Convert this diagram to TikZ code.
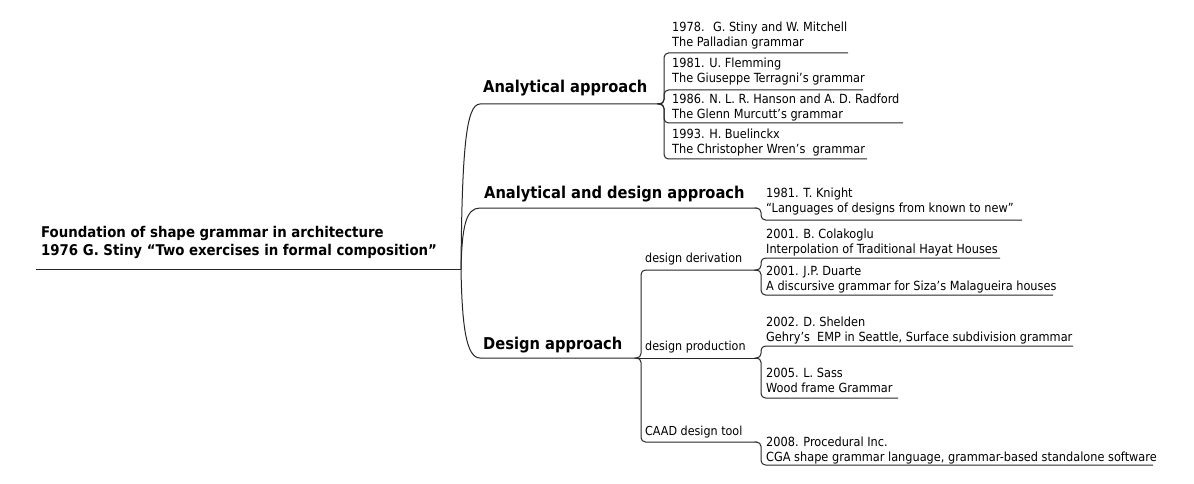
\documentclass[tikz,border=0pt]{standalone}
\usepackage{fontspec}
\setmainfont{DejaVu Sans Condensed}
\begin{document}
\begin{tikzpicture}[x=1pt,y=-1pt,
  ln/.style={draw=black!85,line width=1pt},
  brk/.style={ln,rounded corners=4.5pt},
  txt/.style={inner sep=0pt,anchor=base west,align=left,font=\fontsize{12.6}{15}\selectfont},
  sub/.style={inner sep=0pt,anchor=base west,font=\fontsize{12.4}{15}\selectfont},
  ttl/.style={inner sep=0pt,anchor=base west,font=\fontsize{16.3}{19}\selectfont\bfseries},
  root/.style={inner sep=0pt,anchor=base west,align=left,font=\fontsize{14.8}{18}\selectfont\bfseries}]
\useasboundingbox (0,0) rectangle (1194,484);
% root
\node[root] (rt) at (41,255.5) {Foundation of shape grammar in architecture\\1976 G. Stiny “Two exercises in formal composition”};
\coordinate (rootL) at (36,269);
\coordinate (J0) at (461,269);
\draw[ln] (rootL) -- (J0);
% main branches
\node[ttl] (t1) at (483,93) {Analytical approach};
\node[ttl] (t2) at (484,198) {Analytical and design approach};
\node[ttl] (t3) at (483,349) {Design approach};
\coordinate (b1) at (480,104); \coordinate (J1) at (660,104);
\coordinate (b2) at (480,208); \coordinate (J2) at (757,208);
\coordinate (b3) at (480,358); \coordinate (J3) at (637,358);
\draw[ln] (J0) .. controls (462,150) and (466,104) .. (b1) -- (J1);
\draw[ln] (J0) .. controls (462,226) and (466,208) .. (b2) -- (J2);
\draw[ln] (J0) .. controls (462,325) and (466,358) .. (b3) -- (J3);
% analytical items
\node[txt] (a1) at (672,46.5) {1978.~ G. Stiny and W. Mitchell\\The Palladian grammar};
\node[txt] (a2) at (672,82.5) {1981. U. Flemming\\The Giuseppe Terragni’s grammar};
\node[txt] (a3) at (672,118.5) {1986. N. L. R. Hanson and A. D. Radford\\The Glenn Murcutt’s grammar};
\node[txt] (a4) at (672,153.5) {1993. H. Buelinckx\\The Christopher Wren’s~ grammar};
\coordinate (a1e) at (848,53);
\coordinate (a2e) at (863,90);
\coordinate (a3e) at (903,123);
\coordinate (a4e) at (867,159);
\foreach \e in {a1e,a2e,a3e,a4e} \draw[brk] (J1) -- ++(4,0) |- (\e);
% analytical and design item
\node[txt] (k1) at (766,212.5) {1981. T. Knight\\“Languages of designs from known to new”};
\coordinate (k1e) at (1022,220);
\draw[brk] (J2) -- ++(4,0) |- (k1e);
% design approach sub-branches
\node[sub] (s1) at (645,262.5) {design derivation};
\node[sub] (s2) at (645,350.5) {design production};
\node[sub] (s3) at (645,435.5) {CAAD design tool};
\coordinate (J31) at (757,270);
\coordinate (J32) at (757,358);
\coordinate (J33) at (757,442);
\draw[brk] (J3) -- ++(4,0) |- (J31);
\draw[ln] (J3) -- (J32);
\draw[brk] (J3) -- ++(4,0) |- (J33);
% design derivation items
\node[txt] (d1) at (766,253.5) {2001. B. Colakoglu\\Interpolation of Traditional Hayat Houses};
\node[txt] (d2) at (766,290.5) {2001. J.P. Duarte\\A discursive grammar for Siza’s Malagueira houses};
\coordinate (d1e) at (1000,258);
\coordinate (d2e) at (1053,295);
\draw[brk] (J31) -- ++(4,0) |- (d1e);
\draw[brk] (J31) -- ++(4,0) |- (d2e);
% design production items
\node[txt] (p1) at (766,341.5) {2002. D. Shelden\\Gehry’s~ EMP in Seattle, Surface subdivision grammar};
\node[txt] (p2) at (766,392.5) {2005. L. Sass\\Wood frame Grammar};
\coordinate (p1e) at (1073,346);
\coordinate (p2e) at (898,398);
\draw[brk] (J32) -- ++(4,0) |- (p1e);
\draw[brk] (J32) -- ++(4,0) |- (p2e);
% CAAD item
\node[txt] (c1) at (766,461.5) {2008. Procedural Inc.\\CGA shape grammar language, grammar-based standalone software};
\coordinate (c1e) at (1153,465);
\draw[brk] (J33) -- ++(4,0) |- (c1e);
\end{tikzpicture}
\end{document}
